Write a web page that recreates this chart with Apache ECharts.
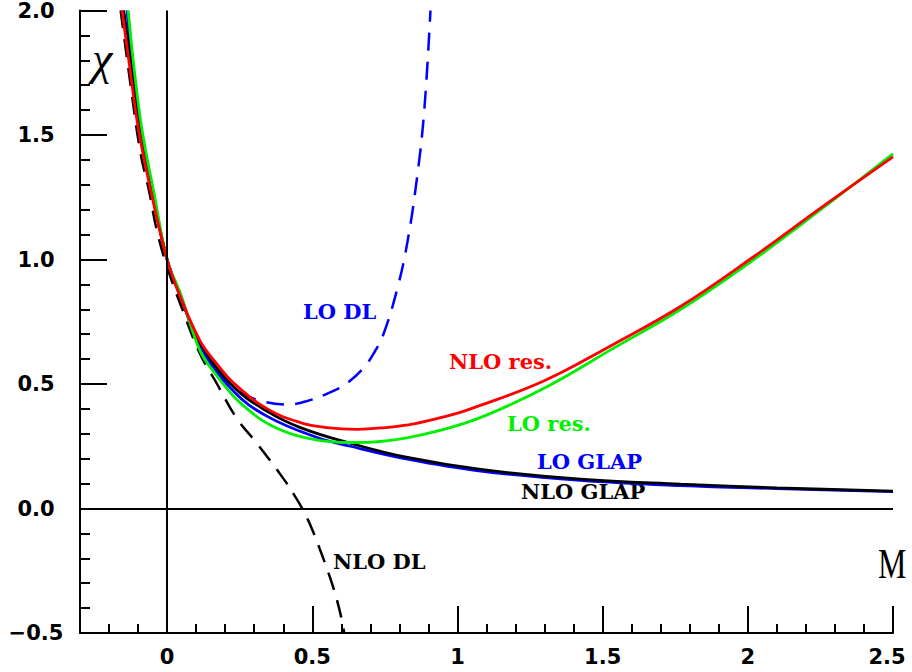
<!DOCTYPE html>
<html><head><meta charset="utf-8">
<script src="https://cdn.jsdelivr.net/npm/echarts@6/dist/echarts.min.js"></script>
<style>html,body{margin:0;padding:0;background:#fff}#c{width:912px;height:672px}</style>
</head><body><div id="c"></div>
<script>
// ---- data ----
const loDL_x = [-0.15, -0.125, -0.095, -0.05, 0, 0.043, 0.114, 0.17, 0.25, 0.33, 0.414, 0.483, 0.573, 0.625, 0.677, 0.71, 0.745, 0.793, 0.828, 0.862, 0.886, 0.907];
const loDL_y = [2.0, 1.792, 1.525, 1.26, 1.0, 0.86, 0.665, 0.56, 0.47, 0.43, 0.418, 0.432, 0.472, 0.508, 0.565, 0.62, 0.70, 0.884, 1.072, 1.34, 1.604, 2.0];

const nloDL_x = [-0.16, -0.128, -0.092, -0.063, -0.036, 0, 0.055, 0.114, 0.172, 0.241, 0.309, 0.403, 0.44, 0.47, 0.5, 0.525, 0.55, 0.572, 0.59, 0.602, 0.61];
const nloDL_y = [2.0, 1.72, 1.43, 1.28, 1.12, 0.97, 0.792, 0.62, 0.50, 0.36, 0.262, 0.116, 0.05, -0.01, -0.085, -0.16, -0.24, -0.316, -0.39, -0.45, -0.5];

const loGLAP_x = [-0.138, -0.121, -0.092, -0.048, 0, 0.045, 0.114, 0.228, 0.345, 0.517, 0.631, 0.828, 1.08, 1.424, 1.769, 2.1, 2.5];
const loGLAP_y = [2.0, 1.792, 1.525, 1.26, 1.0, 0.86, 0.652, 0.472, 0.37, 0.285, 0.25, 0.198, 0.15, 0.113, 0.092, 0.08, 0.068];

const nloGLAP_x = [-0.15, -0.125, -0.095, -0.05, 0, 0.043, 0.114, 0.228, 0.345, 0.459, 0.631, 0.828, 1.08, 1.424, 1.769, 2.1, 2.5];
const nloGLAP_y = [2.0, 1.792, 1.525, 1.26, 1.0, 0.86, 0.665, 0.49, 0.39, 0.325, 0.262, 0.205, 0.157, 0.118, 0.098, 0.083, 0.07];

const loRes_x = [-0.134, -0.116, -0.087, -0.044, 0, 0.047, 0.114, 0.17, 0.228, 0.28, 0.33, 0.39, 0.45, 0.55, 0.655, 0.8, 0.966, 1.1, 1.31, 1.538, 1.769, 2.021, 2.262, 2.5];
const loRes_y = [2.0, 1.792, 1.525, 1.26, 1.0, 0.86, 0.632, 0.535, 0.452, 0.396, 0.352, 0.316, 0.292, 0.27, 0.265, 0.279, 0.322, 0.375, 0.49, 0.644, 0.80, 1.0, 1.21, 1.424];

const nloRes_x = [-0.155, -0.131, -0.099, -0.053, 0, 0.042, 0.114, 0.172, 0.228, 0.345, 0.459, 0.55, 0.655, 0.75, 0.85, 0.966, 1.045, 1.297, 1.538, 1.769, 2.021, 2.262, 2.5];
const nloRes_y = [2.0, 1.792, 1.525, 1.26, 1.0, 0.86, 0.672, 0.58, 0.505, 0.40, 0.345, 0.325, 0.318, 0.325, 0.34, 0.372, 0.40, 0.512, 0.66, 0.812, 1.012, 1.216, 1.412];

const xMajorTicks = [0, 0.5, 1, 1.5, 2, 2.5];
const xMinorTicks = [];
for (let i = -3; i <= 25; i++) xMinorTicks.push(i / 10);

const curveLabels = [
  { text: 'LO DL', color: '#0000ff', x: 303, y: 311 },
  { text: 'NLO res.', color: '#ff0000', x: 449, y: 361 },
  { text: 'LO res.', color: '#00ee00', x: 507, y: 423 },
  { text: 'LO GLAP', color: '#0000ff', x: 537, y: 461 },
  { text: 'NLO GLAP', color: '#000000', x: 521, y: 491 },
  { text: 'NLO DL', color: '#000000', x: 333, y: 561 }
];

function pts(xs, ys) { return xs.map((x, i) => [x, ys[i]]); }

const chart = echarts.init(document.getElementById('c'), null, { renderer: 'svg' });
const tickFont = { fontFamily: 'DejaVu Sans', fontWeight: 'bold', fontSize: 21, color: '#000' };
const dash = [18, 11];

function lineSeries(name, xs, ys, color, dashed, extra) {
  return Object.assign({
    name, type: 'line', xAxisIndex: 0, yAxisIndex: 0,
    data: pts(xs, ys), showSymbol: false, smooth: 0.4,
    lineStyle: { color, width: dashed ? 2.5 : 2.8, type: dashed ? dash : 'solid' },
    silent: true
  }, extra || {});
}

chart.setOption({
  animation: false,
  backgroundColor: '#fff',
  grid: { left: 80, right: 19, top: 8, bottom: 39, containLabel: false },
  xAxis: [{
    type: 'value', min: -0.3, max: 2.5, position: 'bottom',
    axisLine: { show: true, onZero: false, lineStyle: { color: '#000', width: 2 } },
    axisTick: { show: true, inside: true, length: 27, customValues: xMajorTicks, lineStyle: { color: '#000', width: 2 } },
    axisLabel: {
      show: true, margin: 13, customValues: xMajorTicks, ...tickFont,
      formatter: v => v === 2.5 ? '{r|2.5}' : String(v),
      rich: { r: { ...tickFont, padding: [0, 12, 0, 0] } }
    },
    splitLine: { show: false }
  }, {
    type: 'value', min: -0.3, max: 2.5, position: 'bottom', gridIndex: 0,
    axisLine: { show: false, onZero: false },
    axisTick: { show: true, inside: true, length: 9, customValues: xMinorTicks, lineStyle: { color: '#000', width: 2 } },
    axisLabel: { show: false },
    splitLine: { show: false }
  }],
  yAxis: {
    type: 'value', min: -0.5, max: 2.0, interval: 0.5,
    axisLine: { show: true, onZero: false, lineStyle: { color: '#000', width: 2 } },
    axisTick: { show: true, inside: true, length: 27, lineStyle: { color: '#000', width: 2 } },
    minorTick: { show: true, splitNumber: 5, length: 10, lineStyle: { color: '#000', width: 2 } },
    axisLabel: {
      show: true, margin: 44, align: 'center', ...tickFont, padding: [8, 0, 0, 0],
      formatter: v => (v < 0 ? '\u2212' : '') + Math.abs(v).toFixed(1)
    },
    splitLine: { show: false }, minorSplitLine: { show: false }
  },
  series: [
    lineSeries('LO DL', loDL_x, loDL_y, '#0000ff', true, {
      markLine: {
        silent: true, symbol: ['none', 'none'], label: { show: false },
        lineStyle: { color: '#000', width: 2, type: 'solid' },
        data: [{ xAxis: 0 }, { yAxis: 0 }]
      }
    }),
    lineSeries('NLO DL', nloDL_x, nloDL_y, '#000000', true),
    lineSeries('LO GLAP', loGLAP_x, loGLAP_y, '#0000ff', false),
    lineSeries('NLO GLAP', nloGLAP_x, nloGLAP_y, '#000000', false),
    lineSeries('LO res.', loRes_x, loRes_y, '#00ee00', false),
    lineSeries('NLO res.', nloRes_x, nloRes_y, '#ff0000', false)
  ],
  graphic: curveLabels.map(l => ({
    type: 'text', x: l.x, y: l.y, silent: true,
    style: { text: l.text, fill: l.color, font: 'bold 21px "DejaVu Serif"', align: 'left', verticalAlign: 'middle' }
  })).concat([
    { type: 'text', x: 878, y: 564, scaleX: 0.76, silent: true,
      style: { text: 'M', fill: '#000', font: '42px "Liberation Serif"', align: 'left', verticalAlign: 'middle' } },
    { type: 'text', x: 92, y: 58, silent: true,
      style: { text: '\u03c7', fill: '#000', font: 'italic 46px "Liberation Serif"', align: 'left', verticalAlign: 'middle' } }
  ])
});
</script>
</body></html>
